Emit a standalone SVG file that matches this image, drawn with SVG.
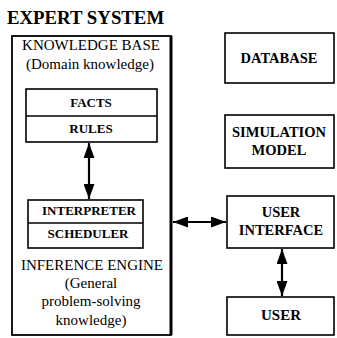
<svg xmlns="http://www.w3.org/2000/svg" width="337" height="338" viewBox="0 0 337 338">
<defs>
<marker id="ah" viewBox="0 0 15 11" refX="15" refY="5.5" markerWidth="15" markerHeight="11" markerUnits="userSpaceOnUse" orient="auto-start-reverse">
<path d="M0,0 L15,5.5 L0,11 Z" fill="#000"/>
</marker>
<style>
.bx{fill:#fff;stroke:#000;stroke-width:1.6}
.b{font-family:"Liberation Serif",serif;font-weight:bold;fill:#000;text-anchor:middle}
.r{font-family:"Liberation Serif",serif;fill:#000;text-anchor:middle;font-size:15px}
.c{fill:none;stroke:#000;stroke-width:2.2}
</style>
</defs>
<rect width="337" height="338" fill="#fff"/>
<text x="7" y="24" font-family="Liberation Serif,serif" font-weight="bold" font-size="18.8" fill="#000">EXPERT SYSTEM</text>
<g id="expert-system">
<rect x="12" y="36" width="159" height="299" fill="#fff" stroke="#000" stroke-width="1.8"/>
<line x1="171" y1="36" x2="171" y2="335" stroke="#000" stroke-width="3"/>
<text class="r" x="91" y="50">KNOWLEDGE BASE</text>
<text class="r" x="90" y="69">(Domain knowledge)</text>
<text class="r" x="92" y="270">INFERENCE ENGINE</text>
<text class="r" x="91" y="288">(General</text>
<text class="r" x="91" y="306">problem-solving</text>
<text class="r" x="91" y="325">knowledge)</text>
</g>
<g id="facts-rules">
<rect class="bx" x="26" y="89" width="131" height="53"/>
<line x1="26" y1="116" x2="157" y2="116" stroke="#000" stroke-width="1.6"/>
<text class="b" x="91" y="107" font-size="13">FACTS</text>
<text class="b" x="91" y="133" font-size="13">RULES</text>
</g>
<g id="interpreter-scheduler">
<rect class="bx" x="28" y="200" width="115" height="48"/>
<line x1="28" y1="223" x2="143" y2="223" stroke="#000" stroke-width="1.6"/>
<text class="b" x="89" y="215" font-size="13">INTERPRETER</text>
<text class="b" x="88" y="238" font-size="13">SCHEDULER</text>
</g>
<g id="database">
<rect class="bx" x="225" y="33" width="109" height="50" stroke-width="2"/>
<text class="b" x="279" y="63" font-size="14.5">DATABASE</text>
</g>
<g id="simulation-model">
<rect class="bx" x="225" y="115" width="109" height="53" stroke-width="2"/>
<text class="b" x="279" y="137" font-size="14.5">SIMULATION</text>
<text class="b" x="279" y="155" font-size="14.5">MODEL</text>
</g>
<g id="user-interface">
<rect class="bx" x="227" y="196" width="107" height="52" stroke-width="2"/>
<text class="b" x="281" y="217" font-size="14.5">USER</text>
<text class="b" x="281" y="235" font-size="14.5">INTERFACE</text>
</g>
<g id="user">
<rect class="bx" x="227" y="297" width="107" height="38" stroke-width="2"/>
<text class="b" x="281" y="320" font-size="15">USER</text>
</g>
<g id="connectors">
<line class="c" x1="89" y1="143" x2="89" y2="199" marker-start="url(#ah)" marker-end="url(#ah)"/>
<line class="c" x1="173" y1="222" x2="226" y2="222" marker-start="url(#ah)" marker-end="url(#ah)"/>
<line class="c" x1="282" y1="249" x2="282" y2="296" marker-start="url(#ah)" marker-end="url(#ah)"/>
</g>
</svg>
